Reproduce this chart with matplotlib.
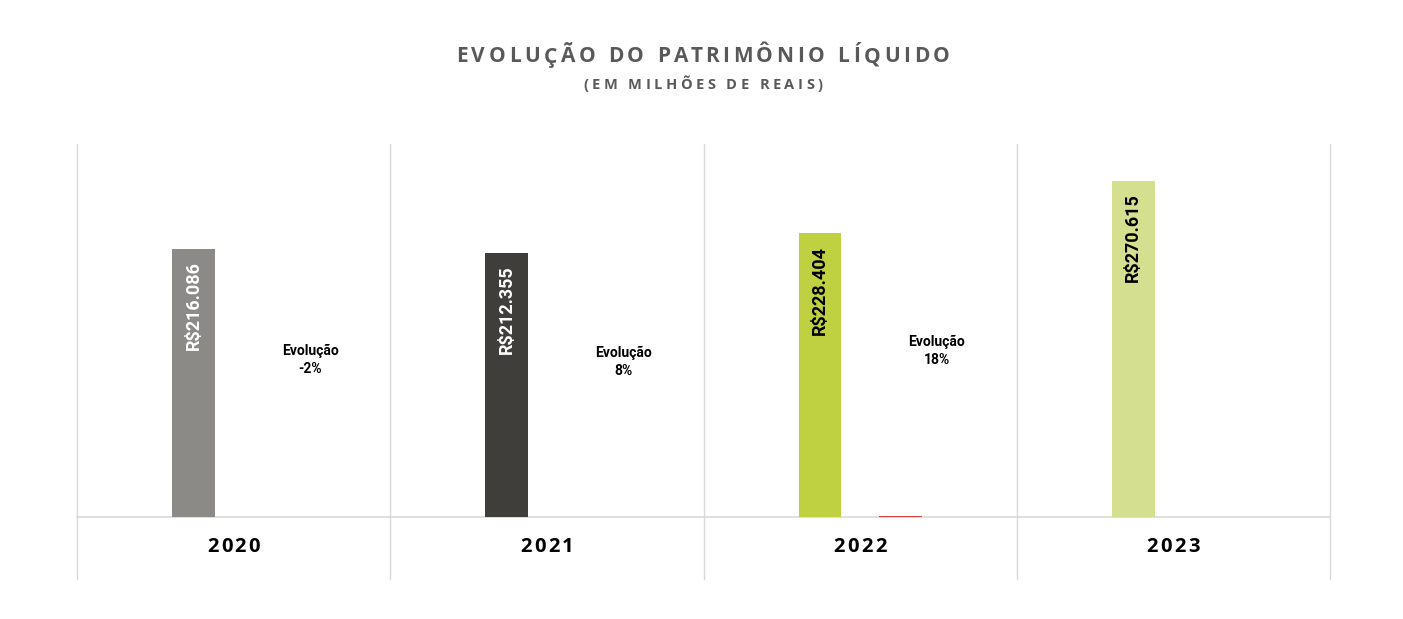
import matplotlib.pyplot as plt
from matplotlib.text import Text

anos = ["2020", "2021", "2022", "2023"]
patrimonio = [216086, 212355, 228404, 270615]
rotulos = ["R$216.086", "R$212.355", "R$228.404", "R$270.615"]
evolucao = ["-2%", "8%", "18%"]
evolucao_y = [126400, 124800, 133700]
barra_evolucao = [0, 0, 900, 0]

cores = ["#8C8A87", "#403E3B", "#BFD141", "#D4E08F"]
cor_rotulo = ["white", "white", "black", "black"]
cinza = "#D9D9D9"

W, H = 1403, 619
fig = plt.figure(figsize=(W / 100, H / 100), dpi=100)
ax = fig.add_axes([77 / W, (H - 517) / H, (1330 - 77) / W, (517 - 144) / H])

x = list(range(len(anos)))
larg = 0.137
off = 0.128
ax.bar([i - off for i in x], patrimonio, width=larg, color=cores, zorder=2)
ax.bar([i + off for i in x], barra_evolucao, width=larg, color="#D9403F", zorder=2)

ax.set_xlim(-0.5, 3.5)
ax.set_ylim(0, 300400)
ax.set_xticks([])
ax.set_yticks([])
for s in ["top", "left", "right"]:
    ax.spines[s].set_visible(False)
ax.spines["bottom"].set_color(cinza)
ax.spines["bottom"].set_linewidth(1.2)
ax.spines["bottom"].set_zorder(1)

# separadores das categorias
for b in [-0.5, 0.5, 1.5, 2.5, 3.5]:
    ax.plot([b, b], [-62 / 373, 1], color=cinza, lw=1,
            transform=ax.get_xaxis_transform(), clip_on=False, zorder=0)

for i, v in enumerate(patrimonio):
    ax.annotate(rotulos[i], (i - off, v), xytext=(0, -9), textcoords="offset points",
                rotation=90, ha="center", va="top", fontsize=13, fontweight="bold",
                family="Roboto", color=cor_rotulo[i])

for i, e in enumerate(evolucao):
    ax.text(i + 0.245, evolucao_y[i], "Evolução\n" + e, ha="center", va="center",
            fontsize=10, fontweight="bold", family="Roboto", linespacing=1.35)

renderer = fig.canvas.get_renderer()


def texto_espacado(xc, yc, s, size, esp, cor, family="Open Sans"):
    # largura acumulada de cada prefixo, em pixels
    def largura(t):
        if not t:
            return 0
        tmp = Text(0, 0, t, fontsize=size, fontweight="bold", family=family)
        tmp.set_figure(fig)
        return tmp.get_window_extent(renderer).width
    total = largura(s) + esp * (len(s) - 1)
    x0 = xc - total / 2
    for k, ch in enumerate(s):
        px = x0 + largura(s[:k]) + esp * k
        fig.text(px / W, 1 - yc / H, ch, fontsize=size, fontweight="bold",
                 family=family, color=cor, ha="left", va="center")


texto_espacado(703, 57, "EVOLUÇÃO DO PATRIMÔNIO LÍQUIDO", 15, 3.7, "#595959")
texto_espacado(703, 85, "(EM MILHÕES DE REAIS)", 10.5, 3.5, "#595959")
for i, a in enumerate(anos):
    texto_espacado(233.5 + 313.25 * i, 547, a, 14.5, 2.5, "black")

fig.savefig("out.png", dpi=100)
